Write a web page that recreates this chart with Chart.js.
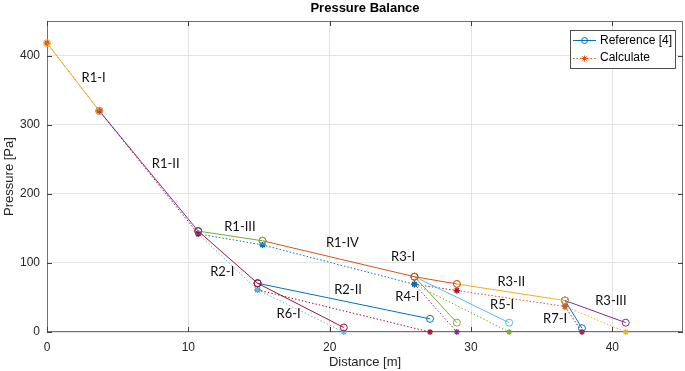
<!DOCTYPE html>
<html>
<head>
<meta charset="utf-8">
<script src="https://cdn.jsdelivr.net/npm/chart.js@4.4.1/dist/chart.umd.min.js"></script>
<style>
  html, body { margin: 0; padding: 0; background: #fff; }
  #wrap { width: 685px; height: 371px; position: relative; }
</style>
</head>
<body>
<div id="wrap"><canvas id="PressureChart" width="685" height="371"></canvas></div>
<script>
// node coordinates (distance in m, pressure in Pa)
const refX  = [0, 3.7, 10.7, 15.25, 14.9, 26.0, 29.0, 36.65, 40.95, 37.85, 32.7, 29.0, 27.1, 21.0];
const refY  = [418, 320, 146, 132, 70.5, 80, 69.5, 45.5, 13.5, 5.5, 13.5, 13.5, 19, 6.5];
const calcX = [0, 3.7, 10.7, 15.25, 14.9, 26.0, 29.0, 36.65, 40.95, 37.85, 32.7, 29.0, 27.1, 21.0];
const calcY = [418, 320, 142, 126, 61, 69, 60, 37, 0, 0, 0, 0, 0, 0];

// pipe sections: name, start node, end node
const sections = ['R1-I', 'R1-II', 'R1-III', 'R2-I', 'R1-IV', 'R2-II', 'R6-I', 'R3-I', 'R4-I', 'R5-I', 'R3-II', 'R3-III', 'R7-I'];
const fromNode = [0, 1, 2, 2, 3, 4, 4, 5, 5, 5, 6, 7, 7];
const toNode   = [1, 2, 3, 4, 5, 12, 13, 6, 11, 10, 7, 8, 9];

const xTicks = [0, 10, 20, 30, 40];
const yTicks = [0, 100, 200, 300, 400];

// where the section names sit (data coords)
const labelX = [3.3, 8.4, 13.65, 12.4, 20.9, 21.3, 17.1, 25.2, 25.5, 32.2, 32.85, 39.9, 35.95];
const labelY = [368, 244, 152, 87, 129, 61, 26, 109, 51, 39, 73, 45, 19];

const blue = "#0072BD", orange = "#D95319", yellow = "#EDB120", purple = "#7E2F8E";
const green = "#77AC30", lightBlue = "#4DBEEE", darkRed = "#A2142F";
const refColor  = [yellow, purple, green, darkRed, orange, blue, darkRed, orange, green, lightBlue, yellow, purple, blue];
const calcColor = [orange, darkRed, blue, lightBlue, blue, darkRed, lightBlue, darkRed, purple, green, orange, yellow, darkRed];

var datasets = [];
for (let i = 0; i < sections.length; i++) {
    const a = fromNode[i], b = toNode[i];
    datasets.push({
        label: sections[i] + " ref",
        data: [{x: refX[a], y: refY[a]}, {x: refX[b], y: refY[b]}],
        showLine: true,
        borderColor: refColor[i],
        backgroundColor: "rgba(0,0,0,0)",
        borderWidth: 1,
        pointStyle: "circle",
        pointRadius: 3.5,
        pointBorderWidth: 1,
        pointBorderColor: refColor[i],
        pointBackgroundColor: "rgba(0,0,0,0)",
        clip: false
    });
}
for (let i = 0; i < sections.length; i++) {
    const a = fromNode[i], b = toNode[i];
    datasets.push({
        label: sections[i] + " calc",
        data: [{x: calcX[a], y: calcY[a]}, {x: calcX[b], y: calcY[b]}],
        showLine: true,
        borderColor: calcColor[i],
        borderDash: [1.5, 2],
        backgroundColor: "rgba(0,0,0,0)",
        borderWidth: 1,
        pointStyle: "star",
        pointRadius: 3,
        pointBorderWidth: 1.2,
        pointBorderColor: calcColor[i],
        pointBackgroundColor: calcColor[i],
        clip: false
    });
}

const axisFont = "Liberation Sans, Arial, sans-serif";

// frame, inner tick marks, titles, section names, legend
const decor = {
    id: "decor",
    beforeDatasetsDraw(chart) {
        const ctx = chart.ctx, ca = chart.chartArea;
        const xs = chart.scales.x, ys = chart.scales.y;
        ctx.save();
        ctx.strokeStyle = "#707070";
        ctx.lineWidth = 1;
        ctx.strokeRect(ca.left + 0.5, ca.top + 0.5, ca.right - ca.left - 1, ca.bottom - ca.top - 1);
        ctx.strokeStyle = "#404040";
        ctx.beginPath();
        xTicks.forEach(v => {
            const px = Math.round(xs.getPixelForValue(v)) + 0.5;
            ctx.moveTo(px, ca.bottom); ctx.lineTo(px, ca.bottom - 5);
            ctx.moveTo(px, ca.top); ctx.lineTo(px, ca.top + 5);
        });
        yTicks.forEach(v => {
            const py = Math.round(ys.getPixelForValue(v)) + 0.5;
            ctx.moveTo(ca.left, py); ctx.lineTo(ca.left + 5, py);
            ctx.moveTo(ca.right, py); ctx.lineTo(ca.right - 5, py);
        });
        ctx.stroke();
        ctx.restore();
    },
    afterDraw(chart) {
        const ctx = chart.ctx, ca = chart.chartArea;
        const xs = chart.scales.x, ys = chart.scales.y;
        ctx.save();
        // title and axis titles
        ctx.fillStyle = "#000";
        ctx.textAlign = "center";
        ctx.textBaseline = "middle";
        ctx.font = "bold 13px " + axisFont;
        ctx.fillText("Pressure Balance", (ca.left + ca.right) / 2, 8);
        ctx.fillStyle = "#262626";
        ctx.font = "13px " + axisFont;
        ctx.fillText("Distance [m]", (ca.left + ca.right) / 2, 362);
        ctx.save();
        ctx.translate(9, (ca.top + ca.bottom) / 2);
        ctx.rotate(-Math.PI / 2);
        ctx.fillText("Pressure [Pa]", 0, 0);
        ctx.restore();

        // section names
        ctx.fillStyle = "#111";
        ctx.font = "13px Lato, 'Open Sans', sans-serif";
        for (let i = 0; i < sections.length; i++) {
            ctx.fillText(sections[i], xs.getPixelForValue(labelX[i]), ys.getPixelForValue(labelY[i]));
        }

        // legend box
        const lx = 570, ly = 30, lw = 105, lh = 38;
        ctx.fillStyle = "#fff";
        ctx.fillRect(lx, ly, lw, lh);
        ctx.strokeStyle = "#262626";
        ctx.lineWidth = 0.8;
        ctx.strokeRect(lx + 0.5, ly + 0.5, lw, lh);

        ctx.lineWidth = 1;
        ctx.strokeStyle = blue;
        ctx.beginPath();
        ctx.moveTo(573, 40.5); ctx.lineTo(596, 40.5);
        ctx.stroke();
        ctx.beginPath();
        ctx.arc(584.5, 40.5, 3, 0, Math.PI * 2);
        ctx.stroke();

        ctx.strokeStyle = orange;
        ctx.setLineDash([1.5, 2]);
        ctx.beginPath();
        ctx.moveTo(573, 58.5); ctx.lineTo(596, 58.5);
        ctx.stroke();
        ctx.setLineDash([]);
        ctx.beginPath();
        for (let k = 0; k < 4; k++) {
            const ang = k * Math.PI / 4;
            ctx.moveTo(584.5 - 3 * Math.cos(ang), 58.5 - 3 * Math.sin(ang));
            ctx.lineTo(584.5 + 3 * Math.cos(ang), 58.5 + 3 * Math.sin(ang));
        }
        ctx.stroke();

        ctx.fillStyle = "#000";
        ctx.textAlign = "left";
        ctx.font = "12px " + axisFont;
        ctx.fillText("Reference [4]", 600, 41);
        ctx.fillText("Calculate", 600, 58);
        ctx.restore();
    }
};

var canvasElement = document.getElementById("PressureChart");
var config = {
    type: "scatter",
    data: { datasets: datasets },
    options: {
        responsive: false,
        animation: false,
        layout: { autoPadding: false, padding: { top: 21, right: 2, left: 0, bottom: 0 } },
        plugins: {
            legend: { display: false },
            tooltip: { enabled: false },
            title: { display: false }
        },
        scales: {
            x: {
                type: "linear",
                min: 0,
                max: 45,
                afterFit: s => { s.height = 39; s.paddingLeft = 0; s.paddingRight = 0; },
                afterBuildTicks: s => { s.ticks = xTicks.map(v => ({value: v})); },
                ticks: { color: "#262626", font: { family: axisFont, size: 12 }, padding: 8, maxRotation: 0 },
                grid: { color: "#E3E3E3", drawTicks: false },
                border: { display: false }
            },
            y: {
                type: "linear",
                min: 0,
                max: 450,
                afterFit: s => { s.width = 47; s.paddingTop = 0; s.paddingBottom = 0; },
                afterBuildTicks: s => { s.ticks = yTicks.map(v => ({value: v})); },
                ticks: { color: "#262626", font: { family: axisFont, size: 12 }, padding: 7 },
                grid: { color: "#E3E3E3", drawTicks: false },
                border: { display: false }
            }
        }
    },
    plugins: [decor]
};
window.myChart = new Chart(canvasElement, config);
</script>
</body>
</html>
